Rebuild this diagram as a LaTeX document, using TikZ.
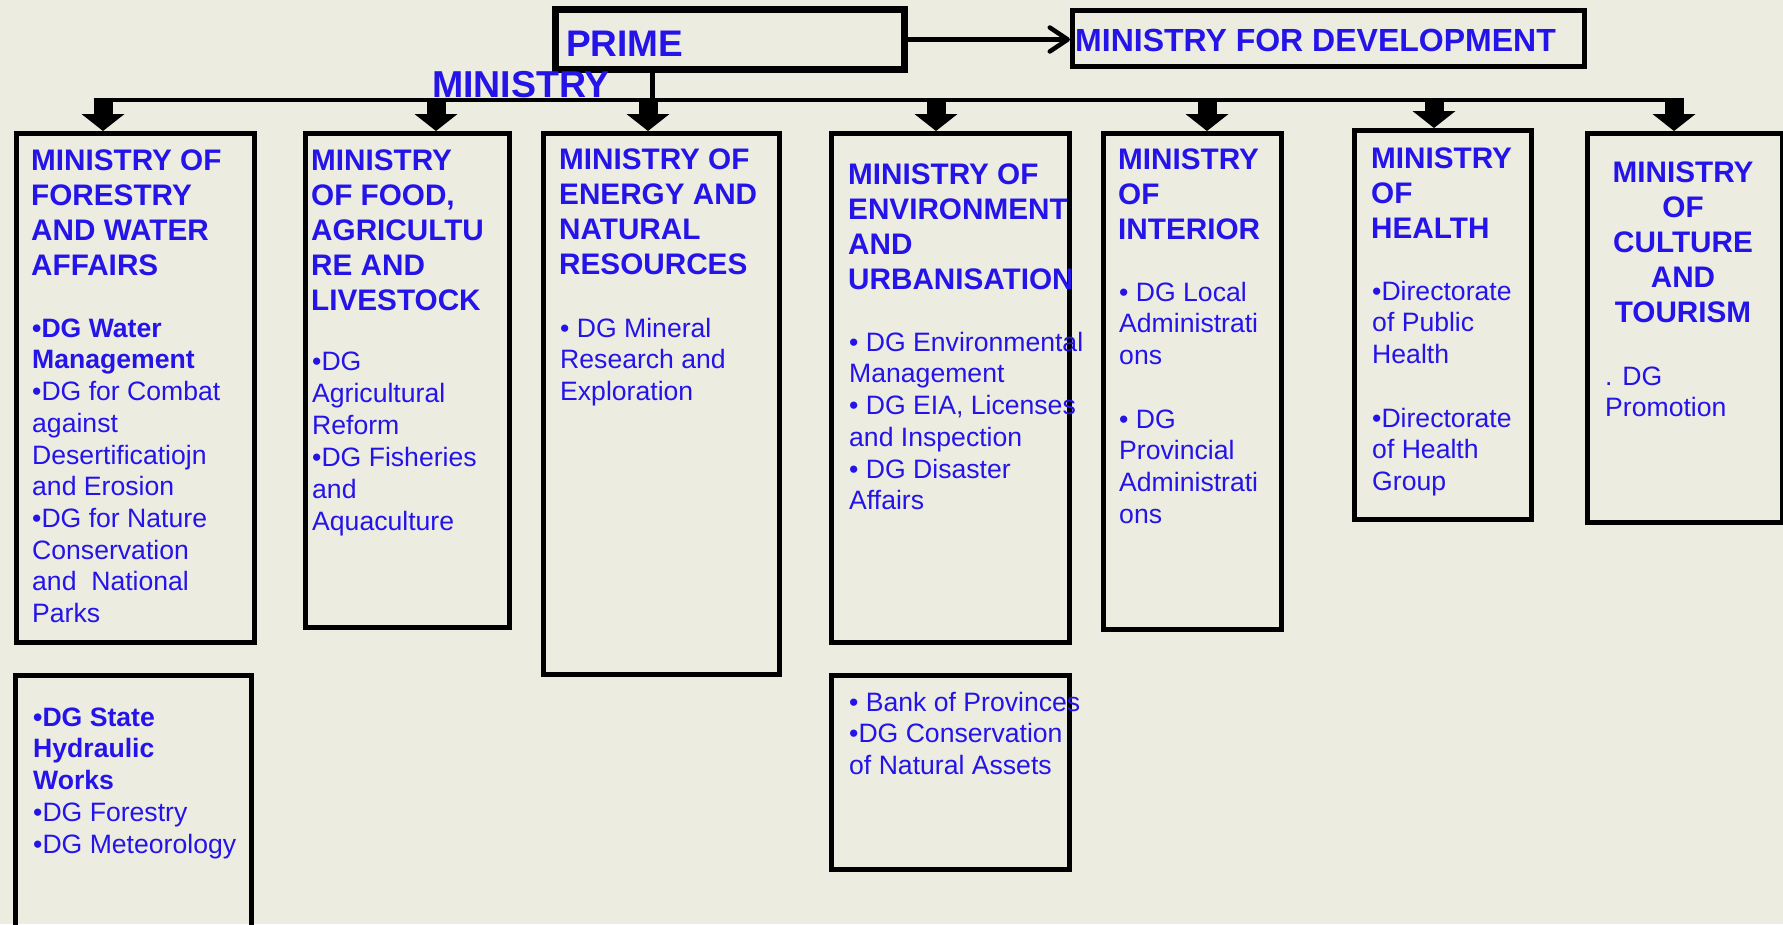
\documentclass[tikz,border=0pt]{standalone}
\usepackage{fontspec}
\setmainfont{Liberation Sans}
\usetikzlibrary{calc,arrows.meta}
\definecolor{bgc}{RGB}{237,236,224}
\definecolor{tblue}{RGB}{36,20,232}
\newcommand\fs{\rule{0pt}{30pt}}
\tikzset{
 box/.style={draw=black, line width=5pt, anchor=north west, inner sep=0pt},
 hd/.style={anchor=north west, inner sep=0pt, align=left, text=tblue, font=\bfseries\fontsize{29.7}{35}\selectfont},
 bd/.style={anchor=north west, inner sep=0pt, align=left, text=tblue, font=\fontsize{26.6}{31.7}\selectfont},
 conn/.style={line width=4.5pt, black},
 stem/.style={line width=19pt, black},
}
\begin{document}
\begin{tikzpicture}[x=1pt,y=-1pt]
\fill[bgc] (0,0) rectangle (1783,924);
\useasboundingbox (0,0) rectangle (1783,924);
% top boxes
\node[box, line width=7pt, minimum width=349pt, minimum height=60pt] (prime) at (552,6) {};
\node[box, minimum width=512pt, minimum height=56pt] (mdev) at (1070,8) {};
\node[anchor=north west, inner sep=0pt, text=tblue, font=\bfseries\fontsize{37}{41}\selectfont] (primet) at (566,26) {\fs PRIME};
\node[anchor=north west, inner sep=0pt, text=tblue, font=\bfseries\fontsize{37.5}{41}\selectfont] (primem) at (432,67) {\fs MINISTRY};
\node[anchor=north west, inner sep=0pt, text=tblue, font=\bfseries\fontsize{32}{36}\selectfont] (mdevt) at (1075,21) {\fs MINISTRY FOR DEVELOPMENT};
% ministry boxes
\node[box, minimum width=238pt, minimum height=509pt] (b1) at (14,131) {};
\node[box, minimum width=204pt, minimum height=494pt] (b2) at (303,131) {};
\node[box, minimum width=236pt, minimum height=541pt] (b3) at (541,131) {};
\node[box, minimum width=238pt, minimum height=509pt] (b4) at (829,131) {};
\node[box, minimum width=178pt, minimum height=496pt] (b5) at (1101,131) {};
\node[box, minimum width=177pt, minimum height=389pt] (b6) at (1352,128) {};
\node[box, minimum width=195pt, minimum height=389pt] (b7) at (1585,131) {};
\node[box, minimum width=236pt, minimum height=280pt] (b1l) at (13,673) {};
\node[box, minimum width=238pt, minimum height=194pt] (b4l) at (829,673) {};
% texts
\node[hd] (h1) at (31,140) {\fs MINISTRY OF\\FORESTRY\\AND WATER\\AFFAIRS};
\node[bd] (d1) at (32,307) {\fs\textbf{•DG Water}\\\textbf{Management}\\•DG for Combat\\against\\Desertificatiojn\\and Erosion\\•DG for Nature\\Conservation\\and\ \ National\\Parks};
\node[hd] (h2) at (311,140) {\fs MINISTRY\\OF FOOD,\\AGRICULTU\\RE AND\\LIVESTOCK};
\node[bd, font=\fontsize{26.6}{32}\selectfont] (d2) at (312,340) {\fs •DG\\Agricultural\\Reform\\•DG Fisheries\\and\\Aquaculture};
\node[hd] (h3) at (559,139) {\fs MINISTRY OF\\ENERGY AND\\NATURAL\\RESOURCES};
\node[bd] (d3) at (560,307) {\fs • DG Mineral\\Research and\\Exploration};
\node[hd] (h4) at (848,154) {\fs MINISTRY OF\\ENVIRONMENT\\AND\\URBANISATION};
\node[bd] (d4) at (849,321) {\fs • DG Environmental\\Management\\• DG EIA, Licenses\\and Inspection\\• DG Disaster\\Affairs};
\node[hd] (h5) at (1118,139) {\fs MINISTRY\\OF\\INTERIOR};
\node[bd] (d5) at (1119,271) {\fs • DG Local\\Administrati\\ons\\[31.7pt]• DG\\Provincial\\Administrati\\ons};
\node[hd] (h6) at (1371,138) {\fs MINISTRY\\OF\\HEALTH};
\node[bd] (d6) at (1372,270) {\fs •Directorate\\of Public\\Health\\[31.7pt]•Directorate\\of Health\\Group};
\node[hd, anchor=north, align=center] (h7) at (1683,152) {\fs MINISTRY\\OF\\CULTURE\\AND\\TOURISM};
\node[bd] (d7) at (1605,355) {\fs . DG\\Promotion};
\node[bd] (d1l) at (33,696) {\fs\textbf{•DG State}\\\textbf{Hydraulic}\\\textbf{Works}\\•DG Forestry\\•DG Meteorology};
\node[bd] (d4l) at (849,681) {\fs • Bank of Provinces\\•DG Conservation\\of Natural Assets};
% connectors
\draw[line width=4.5pt, -{Straight Barb[length=18pt,width=24pt,line cap=round,line join=round]}] (prime.east) -- (prime.east -| mdev.west);
\coordinate (bus) at (652.5,100);
\coordinate (t1) at (103,0);
\coordinate (t2) at (436,0);
\coordinate (t3) at (648,0);
\coordinate (t4) at (936,0);
\coordinate (t5) at (1207,0);
\coordinate (t6) at (1434,0);
\coordinate (t7) at (1674,0);
\draw[conn] (prime.south -| bus) -- (bus);
\draw[conn] ($(bus -| t1)+(-9.5,0)$) -- ($(bus -| t7)+(9.5,0)$);
\foreach \i in {1,...,7}{
  \draw[stem] ($(bus -| t\i)+(0,-2.5)$) -- ($(t\i |- b\i.north)+(0,-15)$);
  \fill ($(t\i |- b\i.north)+(-21.5,-17)$) -- (t\i |- b\i.north) -- ($(t\i |- b\i.north)+(21.5,-17)$) -- cycle;
}
\end{tikzpicture}
\end{document}
